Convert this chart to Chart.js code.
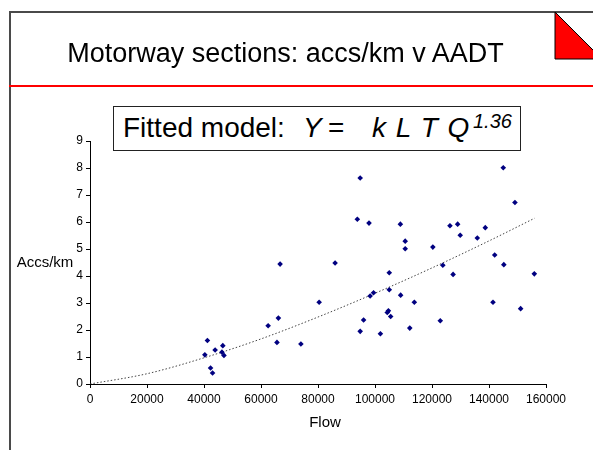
<!DOCTYPE html>
<html>
<head>
<meta charset="utf-8">
<script src="https://cdn.jsdelivr.net/npm/chart.js@4/dist/chart.umd.min.js"></script>
<style>
  html, body { margin: 0; padding: 0; background: #fff; }
  #page { position: relative; width: 593px; height: 450px; overflow: hidden; font-family: "Liberation Sans", Arial, sans-serif; }
  #chart { position: absolute; left: 0; top: 0; }
  .rule { position: absolute; }
  #title { position: absolute; left: 0; width: 571px; top: 38px; text-align: center; font-size: 27px; color: #000; white-space: nowrap; }
  #model { position: absolute; left: 113px; top: 106px; width: 408px; height: 45px; border: 1px solid #222; background: #fff; box-sizing: border-box; }
  #model span { position: absolute; white-space: nowrap; font-size: 28px; line-height: 28px; top: 7px; }
  #model i { font-style: italic; }
  #model .sup { font-size: 20px; line-height: 20px; top: 4px; font-style: italic; }
  #corner { position: absolute; left: 554px; top: 11px; }
</style>
</head>
<body>
<div id="page">
  <canvas id="chart" width="593" height="450"></canvas>
  <div class="rule" style="left:9px; top:11px; width:584px; height:2px; background:#4a4a4a;"></div>
  <div class="rule" style="left:9px; top:11px; width:2px; height:439px; background:#4a4a4a;"></div>
  <div class="rule" style="left:9px; top:85px; width:584px; height:2px; background:#ff0000;"></div>
  <svg id="corner" width="40" height="50">
    <polygon points="1,1 1,48 48,48" fill="#ff0000" stroke="#000" stroke-width="1"/>
  </svg>
  <div id="title">Motorway sections: accs/km v AADT</div>
  <div id="model">
    <span style="left:9px">Fitted model:</span>
    <span style="left:189px"><i>Y</i></span>
    <span style="left:214px">=</span>
    <span style="left:258px; word-spacing:2px"><i>k L T Q</i></span>
    <span class="sup" style="left:359px">1.36</span>
  </div>
</div>
<script>
// 구간별 교통량(AADT)과 km당 사고건수
const flows = [
  40300, 41200, 42300, 43000, 43900, 46300, 46600, 47000,
  62500, 66100, 65600, 66700, 74000, 80400, 86000,
  93800, 94800, 94800, 96000, 97900, 98300, 99500, 101900,
  104300, 104700, 105500, 105000, 105000, 108900, 109000,
  110600, 110600, 112200, 113800, 120300, 122900, 123800,
  126300, 127400, 129000, 129900, 135900, 138700, 141400,
  142000, 145000, 145200, 149100, 151100, 155900
];
const accsPerKm = [
  1.08, 1.61, 0.59, 0.41, 1.26, 1.18, 1.42, 1.06,
  2.16, 2.44, 1.54, 4.44, 1.48, 3.03, 4.48,
  6.10, 7.63, 1.95, 2.37, 5.96, 3.26, 3.38, 1.86,
  2.65, 2.71, 2.50, 4.12, 3.49, 5.92, 3.29,
  5.29, 5.01, 2.07, 3.03, 5.07, 2.34, 4.40,
  5.86, 4.06, 5.92, 5.51, 5.41, 5.79, 3.03,
  4.78, 8.01, 4.42, 6.72, 2.79, 4.08
];

// 추세선 (Q^1.36 거듭제곱 곡선) 읽은 값
const trendFlow = [0, 20000, 40000, 60000, 80000, 100000, 120000, 140000, 156000];
const trendAccs = [0, 0.38, 0.97, 1.67, 2.48, 3.36, 4.30, 5.30, 6.14];

const xTicks = [0, 20000, 40000, 60000, 80000, 100000, 120000, 140000, 160000];
const yTicks = [0, 1, 2, 3, 4, 5, 6, 7, 8, 9];

const xTitle = "Flow";
const yTitle = "Accs/km";

const FONT = "'Liberation Sans', Arial, sans-serif";

// 축 제목을 가로로 그리는 플러그인
const axisTitles = {
  id: "axisTitles",
  afterDraw(chart) {
    const { ctx, chartArea } = chart;
    ctx.save();
    ctx.fillStyle = "#000";
    ctx.font = "15px " + FONT;
    ctx.textAlign = "center";
    ctx.textBaseline = "middle";
    ctx.fillText(yTitle, 45, (chartArea.top + chartArea.bottom) / 2);
    ctx.fillText(xTitle, 325, 423);
    ctx.restore();
  },
};

new Chart(document.getElementById("chart"), {
  type: "scatter",
  data: {
    datasets: [
      {
        label: "sections",
        data: flows.map((f, i) => ({ x: f, y: accsPerKm[i] })),
        pointStyle: "rectRot",
        pointRadius: 2.8,
        backgroundColor: "#000080",
        borderColor: "#000080",
        borderWidth: 0,
        order: 0,
      },
      {
        type: "line",
        label: "trend",
        data: trendFlow.map((f, i) => ({ x: f, y: trendAccs[i] })),
        borderColor: "#444",
        borderWidth: 1,
        borderDash: [1.5, 2],
        pointRadius: 0,
        cubicInterpolationMode: "monotone",
        fill: false,
        order: 1,
      },
    ],
  },
  options: {
    responsive: false,
    animation: false,
    layout: { padding: { left: 0, top: 141, right: 47, bottom: 0 } },
    plugins: { legend: { display: false }, tooltip: { enabled: false } },
    scales: {
      x: {
        type: "linear",
        min: 0,
        max: 160000,
        afterFit: (s) => { s.height = 66; },
        afterBuildTicks: (s) => { s.ticks = xTicks.map((v) => ({ value: v })); },
        grid: { drawOnChartArea: false, drawTicks: true, tickLength: 4, color: "#000" },
        border: { color: "#000", width: 1 },
        ticks: { color: "#000", font: { family: FONT, size: 12 }, padding: 4, maxRotation: 0, callback: (v) => String(v) },
      },
      y: {
        type: "linear",
        min: 0,
        max: 9,
        afterFit: (s) => { s.width = 90; },
        afterBuildTicks: (s) => { s.ticks = yTicks.map((v) => ({ value: v })); },
        grid: { drawOnChartArea: false, drawTicks: true, tickLength: 4, color: "#000" },
        border: { color: "#000", width: 1 },
        ticks: { color: "#000", font: { family: FONT, size: 12 }, padding: 3 },
      },
    },
  },
  plugins: [axisTitles],
});
</script>
</body>
</html>
